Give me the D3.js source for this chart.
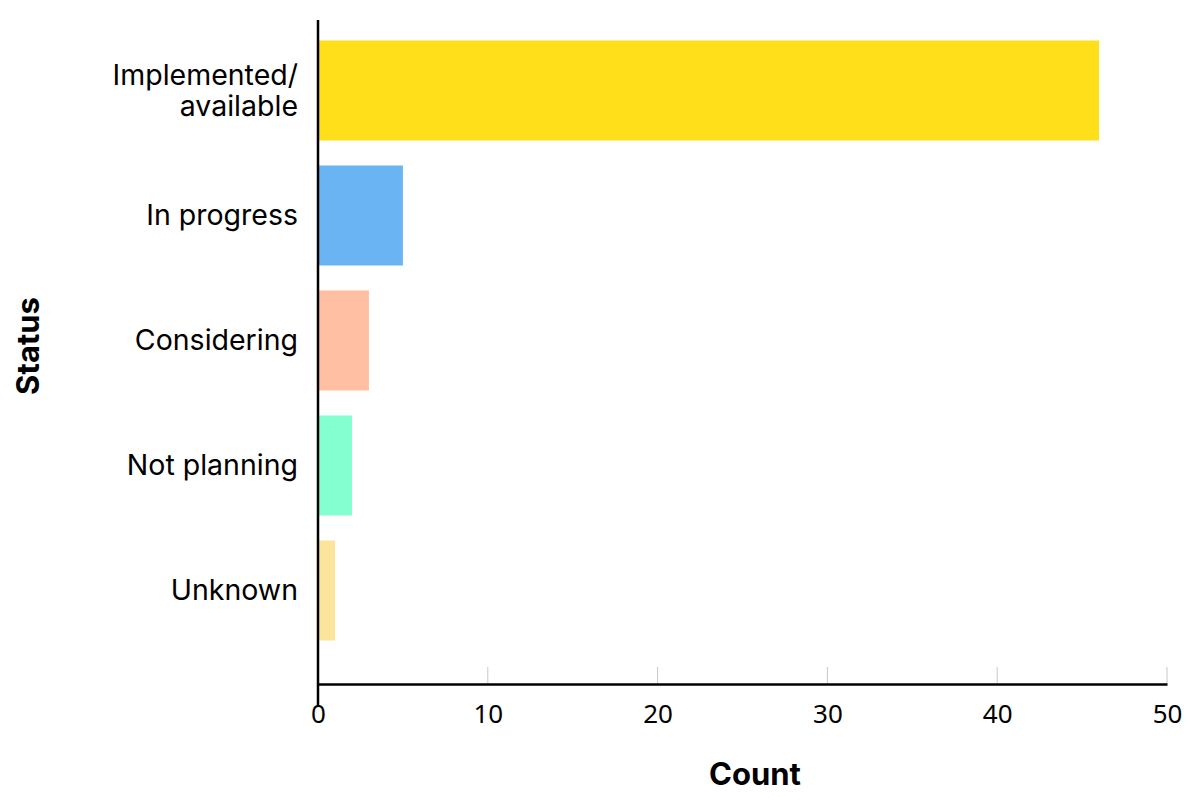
<!DOCTYPE html>
<html>
<head>
<meta charset="utf-8">
<script src="https://cdn.jsdelivr.net/npm/d3@7"></script>
<style>
  html, body { margin: 0; padding: 0; background: #fff; }
  svg { display: block; }
</style>
</head>
<body>
<svg id="chart" width="1200" height="810"></svg>
<script>
const categories = ["Implemented/available", "In progress", "Considering", "Not planning", "Unknown"];
const categoryLines = [["Implemented/", "available"], ["In progress"], ["Considering"], ["Not planning"], ["Unknown"]];
const counts = [46, 5, 3, 2, 1];
const colors = ["#FFDE1A", "#6AB4F3", "#FFBFA3", "#84FFD0", "#FBE59C"];
const xTicks = [0, 10, 20, 30, 40, 50];
const xTitle = "Count";
const yTitle = "Status";

const svg = d3.select("#chart");
const x = d3.scaleLinear().domain([0, 50]).range([318, 1167]);
const y = d3.scaleBand().domain(categories).range([28, 653]).paddingInner(0.2).paddingOuter(0.1);
const axisY = 684;

// grid ticks (short, light)
svg.append("g").selectAll("line").data(xTicks.slice(1)).join("line")
  .attr("x1", d => x(d)).attr("x2", d => x(d))
  .attr("y1", axisY - 17).attr("y2", axisY)
  .attr("stroke", "#c8c8c8").attr("stroke-width", 1);

// bars
svg.append("g").selectAll("rect").data(categories).join("rect")
  .attr("x", x(0))
  .attr("y", d => y(d))
  .attr("width", (d, i) => x(counts[i]) - x(0))
  .attr("height", y.bandwidth())
  .attr("fill", (d, i) => colors[i]);

// x axis
const xAxis = d3.axisBottom(x).tickValues(xTicks).tickSize(0).tickPadding(21);
const gx = svg.append("g").attr("transform", `translate(0,${axisY})`).call(xAxis);
gx.select(".domain").attr("stroke", "#000").attr("stroke-width", 2.5);
gx.selectAll("text").attr("font-family", "'Noto Sans', sans-serif").attr("font-size", 26).attr("fill", "#000");

// y axis line
svg.append("line").attr("x1", x(0)).attr("x2", x(0)).attr("y1", 20).attr("y2", 706)
  .attr("stroke", "#000").attr("stroke-width", 2.5);

// category labels (one text element per line)
const fs = 28.5, lineGap = 31;
const labG = svg.append("g");
categories.forEach((c, i) => {
  const lines = categoryLines[i];
  const n = lines.length;
  const cy = y(c) + y.bandwidth() / 2;
  lines.forEach((l, j) => {
    labG.append("text")
      .attr("text-anchor", "end")
      .attr("font-family", "Inter, sans-serif")
      .attr("font-size", fs)
      .attr("fill", "#000")
      .attr("x", 298)
      .attr("y", cy + (j - (n - 1) / 2) * lineGap + fs * 0.35)
      .text(l);
  });
});

// axis titles
svg.append("text").attr("x", 755).attr("y", 785).attr("text-anchor", "middle")
  .attr("font-family", "Inter, sans-serif").attr("font-weight", 700).attr("font-size", 31)
  .text(xTitle);
svg.append("text").attr("transform", "translate(39,346) rotate(-90)").attr("text-anchor", "middle")
  .attr("font-family", "Inter, sans-serif").attr("font-weight", 700).attr("font-size", 31)
  .text(yTitle);
</script>
</body>
</html>
